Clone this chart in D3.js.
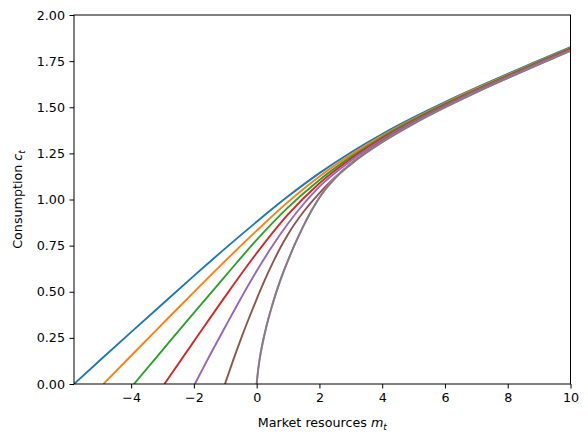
<!DOCTYPE html>
<html>
<head>
<meta charset="utf-8">
<script src="https://cdn.jsdelivr.net/npm/d3@7"></script>
<style>
  html, body { margin: 0; padding: 0; background: #fff; }
  svg { display: block; font-family: "DejaVu Sans", sans-serif; }
</style>
</head>
<body>
<svg id="chart" width="588" height="441"></svg>
<script>
// ---- data ----
const xTicks = [-4, -2, 0, 2, 4, 6, 8, 10];
const yTicks = [0, 0.25, 0.5, 0.75, 1.0, 1.25, 1.5, 1.75, 2.0];
const seriesColors = ["#1f77b4", "#ff7f0e", "#2ca02c", "#d62728", "#9467bd", "#8c564b", "#e377c2", "#7f7f7f"];

const blueM = [-5.82, -5, -4, -3, -2, -1, 0, 1, 2, 3, 4, 5, 6, 7, 8, 9, 10];
const blueC = [0, 0.127, 0.281, 0.434, 0.586, 0.735, 0.879, 1.017, 1.143, 1.255, 1.355, 1.445, 1.528, 1.606, 1.681, 1.754, 1.826];

const orangeM = [-4.88, -4, -3, -2, -1, 0, 1, 2, 3, 4, 5, 6, 7, 8, 9, 10];
const orangeC = [0, 0.153, 0.326, 0.498, 0.667, 0.831, 0.987, 1.125, 1.243, 1.347, 1.439, 1.523, 1.602, 1.677, 1.750, 1.822];

const greenM = [-3.91, -3, -2, -1, 0, 1, 2, 3, 4, 5, 6, 7, 8, 9, 10];
const greenC = [0, 0.184, 0.386, 0.585, 0.781, 0.957, 1.106, 1.231, 1.339, 1.433, 1.518, 1.597, 1.673, 1.747, 1.819];

const redM = [-2.94, -2, -1, 0, 1, 2, 3, 4, 5, 6, 7, 8, 9, 10];
const redC = [0, 0.231, 0.475, 0.709, 0.919, 1.088, 1.221, 1.332, 1.427, 1.513, 1.593, 1.669, 1.743, 1.816];

const purpleM = [-1.97, -1.5, -1, -0.5, 0, 0.5, 1, 1.5, 2, 3, 4, 5, 6, 7, 8, 9, 10];
const purpleC = [0, 0.153, 0.31, 0.465, 0.612, 0.748, 0.87, 0.977, 1.07, 1.21, 1.325, 1.422, 1.509, 1.59, 1.666, 1.74, 1.813];

const brownM = [-1.01, -0.75, -0.5, -0.25, 0, 0.25, 0.5, 0.75, 1, 1.5, 2, 3, 4, 5, 6, 7, 8, 9, 10];
const brownC = [0, 0.128, 0.245, 0.355, 0.46, 0.56, 0.652, 0.737, 0.812, 0.935, 1.035, 1.195, 1.317, 1.416, 1.504, 1.585, 1.662, 1.737, 1.81];

const pinkM = [0, 0.05, 0.1, 0.2, 0.3, 0.4, 0.5, 0.75, 1, 1.25, 1.5, 1.75, 2, 2.5, 3, 4, 5, 6, 7, 8, 9, 10];
const pinkC = [0, 0.08, 0.14, 0.23, 0.305, 0.37, 0.43, 0.56, 0.67, 0.77, 0.86, 0.94, 1.012, 1.118, 1.193, 1.312, 1.412, 1.5, 1.582, 1.659, 1.734, 1.807];

const greyM = [0, 0.05, 0.1, 0.2, 0.3, 0.4, 0.5, 0.75, 1, 1.25, 1.5, 1.75, 2, 2.5, 3, 4, 5, 6, 7, 8, 9, 10];
const greyC = [0, 0.08, 0.14, 0.23, 0.305, 0.37, 0.43, 0.56, 0.67, 0.77, 0.86, 0.94, 1.01, 1.115, 1.19, 1.31, 1.41, 1.499, 1.581, 1.658, 1.733, 1.806];

const allM = [blueM, orangeM, greenM, redM, purpleM, brownM, pinkM, greyM];
const allC = [blueC, orangeC, greenC, redC, purpleC, brownC, pinkC, greyC];

const series = allM.map((ms, i) => ({
  color: seriesColors[i],
  pts: ms.map((m, j) => [m, allC[i][j]])
}));

// ---- layout ----
const svg = d3.select("#chart");
const L = 74, R = 570.5, T = 15, B = 384;
const x = d3.scaleLinear().domain([-5.82, 10]).range([L, R]);
const y = d3.scaleLinear().domain([0, 2]).range([B, T]);
const fs = 12.7;

svg.append("defs").append("clipPath").attr("id", "clip")
  .append("rect").attr("x", L).attr("y", T).attr("width", R - L).attr("height", B - T);

const line = d3.line().x(d => x(d[0])).y(d => y(d[1])).curve(d3.curveMonotoneX);

const g = svg.append("g").attr("clip-path", "url(#clip)");
series.forEach(s => {
  g.append("path").datum(s.pts)
    .attr("d", line)
    .attr("fill", "none")
    .attr("stroke", s.color)
    .attr("stroke-width", 1.9)
    .attr("stroke-linejoin", "round")
    .attr("stroke-linecap", "butt");
});

// axes
const fmtX = d => (d < 0 ? "\u2212" + Math.abs(d) : String(d));
const xAxis = d3.axisBottom(x).tickValues(xTicks).tickFormat(fmtX).tickSize(4.5).tickPadding(4.5);
const yAxis = d3.axisLeft(y).tickValues(yTicks).tickFormat(d3.format(".2f")).tickSize(4.5).tickPadding(4.5);

const gx = svg.append("g").attr("transform", `translate(0,${B})`).call(xAxis);
const gy = svg.append("g").attr("transform", `translate(${L},0)`).call(yAxis);
[gx, gy].forEach(a => {
  a.select(".domain").remove();
  a.selectAll(".tick line").attr("stroke", "#000").attr("stroke-width", 1.0);
  a.selectAll(".tick text").attr("fill", "#000").style("font-size", fs + "px")
    .style("font-family", "DejaVu Sans, sans-serif");
});

// spines
svg.append("rect").attr("x", L).attr("y", T).attr("width", R - L).attr("height", B - T)
  .attr("fill", "none").attr("stroke", "#000").attr("stroke-width", 1.0);

// axis labels
const xl = svg.append("text").attr("x", (L + R) / 2).attr("y", 427)
  .attr("text-anchor", "middle").style("font-size", fs + "px").attr("fill", "#000");
xl.append("tspan").text("Market resources ");
xl.append("tspan").style("font-style", "italic").text("m");
xl.append("tspan").attr("dy", 2.5).style("font-style", "italic").style("font-size", (fs * 0.7) + "px").text("t");

const yl = svg.append("text")
  .attr("transform", `translate(22,${(T + B) / 2}) rotate(-90)`)
  .attr("text-anchor", "middle").style("font-size", fs + "px").attr("fill", "#000");
yl.append("tspan").text("Consumption ");
yl.append("tspan").style("font-style", "italic").text("c");
yl.append("tspan").attr("dy", 2.5).style("font-style", "italic").style("font-size", (fs * 0.7) + "px").text("t");
</script>
</body>
</html>
